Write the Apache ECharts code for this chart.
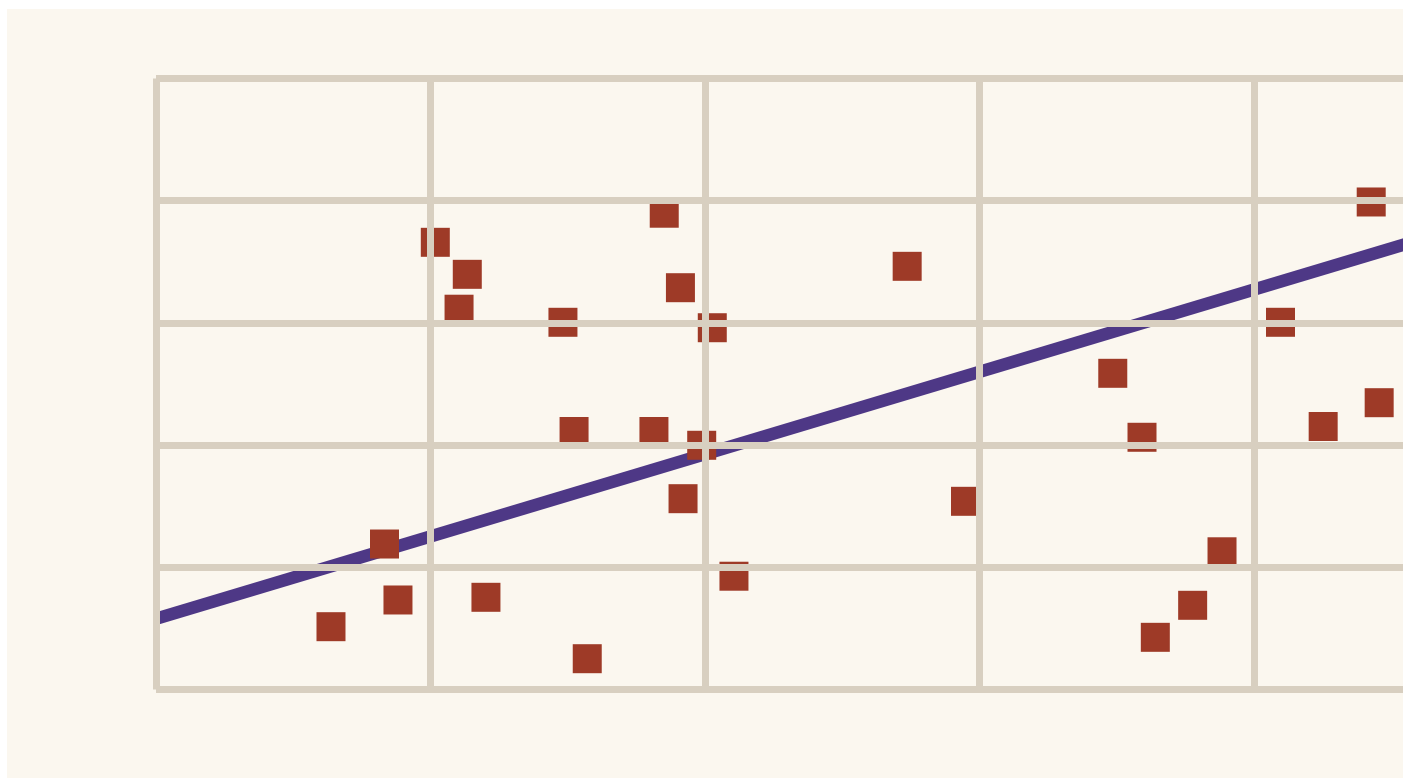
<!DOCTYPE html>
<html>
<head>
<meta charset="utf-8">
<script src="https://cdn.jsdelivr.net/npm/echarts@6/dist/echarts.min.js"></script>
<style>
  html, body { margin: 0; padding: 0; background: #ffffff; overflow: hidden; width: 1403px; height: 778px; }
  #chart { position: absolute; left: 7px; top: 9px; width: 1600px; height: 769px; }
</style>
</head>
<body>
<div id="chart"></div>
<script>
// Scatter points (x, y)
const pointX = [1.275, 1.665, 1.763, 2.035, 2.268, 2.208, 2.404, 2.965, 3.046, 3.142,
                3.628, 3.703, 3.821, 3.840, 3.976, 4.053, 4.211, 5.473, 5.898, 6.971,
                7.184, 7.281, 7.553, 7.767, 8.193, 8.504, 8.854, 8.912];
const pointY = [10.28, 23.81, 14.65, 73.19, 67.95, 62.24, 15.09, 60.10, 42.23, 5.04,
                42.23, 77.95, 65.76, 31.23, 39.97, 59.21, 18.54, 69.26, 30.80, 51.75,
                41.28, 8.54, 13.78, 22.54, 60.10, 43.04, 79.79, 46.94];
// Trend line end points
const lineX = [0, 10];
const lineY = [11.57, 78.92];

const scatterData = pointX.map((x, i) => [x, pointY[i]]);
const lineData = lineX.map((x, i) => [x, lineY[i]]);

const chart = echarts.init(document.getElementById('chart'), null, { renderer: 'canvas' });
const splitStyle = { show: true, lineStyle: { color: '#D8CFC0', width: 7 } };
chart.setOption({
  backgroundColor: '#FBF7EF',
  animation: false,
  grid: { left: 149, top: 69.5, width: 1372.5, height: 611, containLabel: false },
  xAxis: {
    type: 'value', min: 0, max: 10, interval: 2, z: 5,
    axisLine: { show: false }, axisTick: { show: false }, axisLabel: { show: false },
    splitLine: splitStyle
  },
  yAxis: {
    type: 'value', min: 0, max: 100, interval: 20, z: 5,
    axisLine: { show: false }, axisTick: { show: false }, axisLabel: { show: false },
    splitLine: splitStyle
  },
  series: [
    {
      type: 'line', data: lineData, showSymbol: false, z: 2,
      lineStyle: { color: '#4E3886', width: 12.5 }
    },
    {
      type: 'scatter', data: scatterData, symbol: 'rect', symbolSize: 29, z: 3,
      itemStyle: { color: '#9E3A27', opacity: 1 }
    }
  ]
});
</script>
</body>
</html>
